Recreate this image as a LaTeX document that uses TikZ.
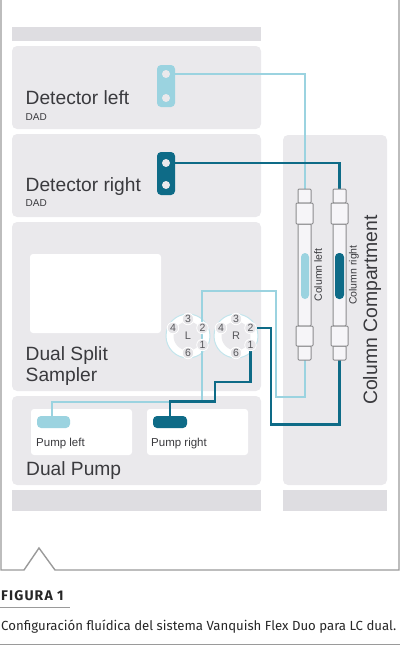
\documentclass[tikz,border=0pt]{standalone}
\usepackage{fontspec}
\setmainfont{Liberation Sans}
\newfontfamily\capfont{Fira Sans}
\usetikzlibrary{backgrounds}
\pgfdeclarelayer{conn}
\pgfsetlayers{background,conn,main}
\definecolor{panelc}{HTML}{EAE9EC}
\definecolor{barc}{HTML}{DEDDE1}
\definecolor{lightc}{HTML}{9BD3E0}
\definecolor{darkc}{HTML}{0E6B87}
\definecolor{framec}{HTML}{9A9A9A}
\definecolor{txtc}{HTML}{3A3A3E}
\definecolor{fitc}{HTML}{8C8C8E}
\definecolor{tubec}{HTML}{F6F5F8}
\definecolor{portc}{HTML}{E6E5E8}
\newcommand{\bx}[6]{%
  \pgfmathsetmacro{\mycx}{(#3+#5)/2}\pgfmathsetmacro{\mycy}{(#4+#6)/2}%
  \pgfmathsetmacro{\myw}{#5-#3}\pgfmathsetmacro{\myh}{#6-#4}%
  \node[#2,minimum width=\myw pt,minimum height=\myh pt] (#1) at (\mycx,\mycy) {};}
\tikzset{
  basebox/.style={inner sep=0pt,outer sep=0pt,draw=none},
  panel/.style={basebox,fill=panelc,rounded corners=5pt},
  bar/.style={basebox,fill=barc},
  whitebox/.style={basebox,fill=white,rounded corners=3pt},
  pilllight/.style={basebox,fill=lightc,rounded corners=4pt},
  pilldark/.style={basebox,fill=darkc,rounded corners=4pt},
  hole/.style={circle,fill=panelc,inner sep=0pt,outer sep=0pt,minimum size=8pt},
  ring/.style={circle,fill=white,draw=lightc!60,line width=1pt,minimum size=44pt,inner sep=0pt},
  hub/.style={circle,fill=panelc,minimum size=29pt,inner sep=0pt},
  port/.style={circle,fill=portc,draw=white,line width=0.8pt,minimum size=11.5pt,inner sep=0pt,font=\fontsize{10.5}{10.5}\selectfont,text=txtc!85},
  fitting/.style={basebox,draw=fitc,fill=tubec,line width=1pt,rounded corners=1pt},
  fluidl/.style={draw=lightc,line width=2pt},
  fluidd/.style={draw=darkc,line width=2.2pt},
  big/.style={anchor=base west,inner sep=0pt,text=txtc,font=\fontsize{19.2}{19.2}\selectfont},
  small/.style={anchor=base west,inner sep=0pt,text=txtc,font=\fontsize{10}{10}\selectfont},
  mid/.style={anchor=base west,inner sep=0pt,text=txtc,font=\fontsize{11.5}{11.5}\selectfont},
  frame/.style={draw=framec,line width=1.4pt},
  capline/.style={draw=framec,line width=1pt}
}
\begin{document}
\begin{tikzpicture}[x=1pt,y=-1pt]
\useasboundingbox (0,0) rectangle (400,645);
\begin{pgfonlayer}{background}
\bx{topbar}{bar}{12}{27}{261}{41}
\bx{botbarl}{bar}{12}{490}{261}{511}
\bx{botbarr}{bar}{283}{490}{387}{511}
\bx{detl}{panel}{12}{46}{261}{129}
\bx{detr}{panel}{12}{134}{261}{217}
\bx{samp}{panel}{12}{222}{261}{391}
\bx{pump}{panel}{12}{396}{261}{485}
\bx{comp}{panel}{283}{135}{387}{485}
\bx{sampw}{whitebox}{30}{254}{161}{333}
\bx{pumplw}{whitebox}{31}{409}{132}{455}
\bx{pumprw}{whitebox}{147}{409}{248}{455}
\node[ring] (ringl) at (188,336) {};
\node[ring] (ringr) at (236,336) {};
\node[hub] (hubl) at (188,336) {};
\node[hub] (hubr) at (236,336) {};
\end{pgfonlayer}

% frame
\draw[frame] (1,0) -- (1,570) -- (24,570) -- (39,548) -- (55,570) -- (399,570) -- (399,0);
\draw[capline] (0,607) -- (70,607);
\draw[capline] (0,644) -- (400,644);

% detector plates
\bx{platel}{pilllight}{157}{65}{175}{107}
\bx{plater}{pilldark}{157}{152}{175}{195}
\node[hole] (hl1) at (166,74) {};
\node[hole] (hl2) at (166,98) {};
\node[hole] (hr1) at (166,163) {};
\node[hole] (hr2) at (166,185) {};

% columns
\bx{ltop}{fitting}{298}{189}{311}{203}
\bx{lbot}{fitting}{298}{346}{311}{360}
\bx{ltube}{fitting}{298}{224}{311}{326}
\bx{lfu}{fitting}{296}{203}{313}{224}
\bx{lfd}{fitting}{296}{326}{313}{346}
\bx{lfill}{pilllight}{301}{253}{309}{299}
\bx{rtop}{fitting}{333}{189}{346}{203}
\bx{rbot}{fitting}{333}{346}{346}{360}
\bx{rtube}{fitting}{333}{224}{346}{326}
\bx{rfu}{fitting}{331}{203}{348}{224}
\bx{rfd}{fitting}{331}{326}{348}{346}
\bx{rfill}{pilldark}{335}{253}{344}{299}

% pumps
\bx{pl}{pilllight}{37}{416}{70}{428}
\bx{pr}{pilldark}{153}{416}{187}{428}

% valve ports
\foreach \vn/\cx in {l/188,r/236}{
  \node[port] (\vn3) at (\cx,319) {3};
  \node[port] (\vn2) at (\cx+14.5,328) {2};
  \node[port] (\vn1) at (\cx+14.5,345) {1};
  \node[port] (\vn6) at (\cx,353) {6};
  \node[port] (\vn4) at (\cx-15,328) {4};
}
\node[text=txtc!85,font=\fontsize{11}{11}\selectfont] (lab-l) at (188,336) {L};
\node[text=txtc!85,font=\fontsize{11}{11}\selectfont] (lab-r) at (236,336) {R};

% connectors
\begin{pgfonlayer}{conn}
\draw[fluidl] (platel.east |- hl1) -| (ltop.north);
\draw[fluidd] (plater.east |- hr1) -| (rtop.north);
\coordinate (ja) at (52,401.5);
\draw[fluidl] (pl.north -| ja) -- (ja) -- (202,401.5) -- (202,291) -- (276,291) -- (276,397) -- (304.5,397) -- (lbot.south);
\draw[fluidd] (pr.north) -- (170,401.5) -- (215,401.5) -- (215,382) -- (250.5,382) -- (r1.south);
\draw[fluidd] (r2.east) -- (271,328) -- (271,424.5) -- (339.5,424.5) -- (rbot.south);
\end{pgfonlayer}

% texts
\node[big] (t1) at (25.5,104.5) {Detector left};
\node[small] (t2) at (25.5,120.5) {DAD};
\node[big] (t3) at (25.5,191) {Detector right};
\node[small] (t4) at (25.5,206) {DAD};
\node[big] (t5) at (25.5,360) {Dual Split};
\node[big] (t6) at (25.5,381) {Sampler};
\node[big] (t7) at (26,475) {Dual Pump};
\node[mid] (t8) at (36,446) {Pump left};
\node[mid] (t9) at (151,446) {Pump right};
\node[rotate=90,inner sep=0pt,text=txtc,font=\fontsize{10.5}{10.5}\selectfont] (t10) at (318,275) {Column left};
\node[rotate=90,inner sep=0pt,text=txtc,font=\fontsize{10.5}{10.5}\selectfont] (t11) at (354,275) {Column right};
\node[rotate=90,inner sep=0pt,text=txtc,font=\fontsize{19.4}{19.4}\selectfont] (t12) at (372,310) {Column Compartment};
\node[anchor=base west,inner sep=0pt,text=black!85,font=\capfont\bfseries\fontsize{14}{14}\selectfont] (t13) at (1,600) {\addfontfeature{LetterSpace=8}FIGURA 1};
\node[anchor=base west,inner sep=0pt,text=black!85,font=\capfont\fontsize{13.2}{13.2}\selectfont] (t14) at (1,630) {Configuración fluídica del sistema Vanquish Flex Duo para LC dual.};
\end{tikzpicture}
\end{document}
